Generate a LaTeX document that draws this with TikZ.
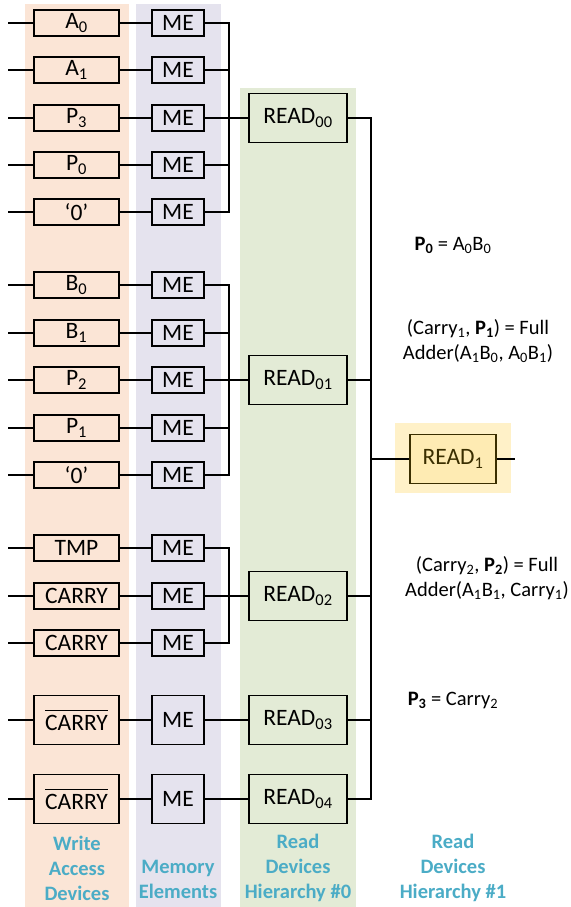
\documentclass[tikz,border=0pt]{standalone}
\usepackage{fontspec}
\setmainfont{Carlito}
\definecolor{orangebg}{HTML}{FBE5D6}
\definecolor{purplebg}{HTML}{E5E3EE}
\definecolor{greenbg}{HTML}{E3EBD6}
\definecolor{yellowbg}{HTML}{FFF1C8}
\definecolor{yellowbox}{HTML}{FEEBB3}
\definecolor{darkbrown}{HTML}{3A2E00}
\definecolor{labelblue}{HTML}{4BACC6}
\newcommand{\mysb}[1]{\textsubscript{#1}}
\newsavebox{\carrybox}
\newcommand{\ncarry}{\sbox{\carrybox}{CARRY}\rlap{\rule[19pt]{\wd\carrybox}{1.3pt}}\usebox{\carrybox}}
\begin{document}
\begin{tikzpicture}[x=1pt,y=-1pt,
  wire/.style={line width=1.4pt},
  boxbase/.style={draw, line width=1.4pt, inner sep=0pt, font=\fontsize{23.5}{28}\selectfont},
  wsmall/.style={boxbase, fill=orangebg, minimum width=85pt, minimum height=26pt},
  wbig/.style={boxbase, fill=orangebg, minimum width=85pt, minimum height=49pt},
  mesmall/.style={boxbase, fill=purplebg, minimum width=52pt, minimum height=26pt},
  mebig/.style={boxbase, fill=purplebg, minimum width=52pt, minimum height=49pt},
  readbox/.style={boxbase, fill=greenbg, minimum width=98pt, minimum height=49pt},
  read1box/.style={boxbase, fill=yellowbox, draw=darkbrown, text=darkbrown, minimum width=86pt, minimum height=49pt},
  note/.style={align=center, font=\fontsize{20.5}{25}\selectfont},
  collabel/.style={align=center, text=labelblue, font=\fontsize{20.5}{25}\selectfont\bfseries}
]
\useasboundingbox (0,0) rectangle (570,907);
% backgrounds
\fill[orangebg] (25,4) rectangle (129,907);
\fill[purplebg] (136,4) rectangle (221,907);
\fill[greenbg] (240,88) rectangle (356,907);
\fill[yellowbg] (395,423) rectangle (511,493);

\coordinate (busA) at (229,0);
\coordinate (busB) at (371,0);

% rows
\foreach \n/\y/\t/\ws/\ms in {
  1/23/A\mysb{0}/wsmall/mesmall,
  2/70/A\mysb{1}/wsmall/mesmall,
  3/118/P\mysb{3}/wsmall/mesmall,
  4/165/P\mysb{0}/wsmall/mesmall,
  5/212/‘0’/wsmall/mesmall,
  6/285/B\mysb{0}/wsmall/mesmall,
  7/333/B\mysb{1}/wsmall/mesmall,
  8/380/P\mysb{2}/wsmall/mesmall,
  9/428/P\mysb{1}/wsmall/mesmall,
  10/475/‘0’/wsmall/mesmall,
  11/548/TMP/wsmall/mesmall,
  12/596/CARRY/wsmall/mesmall,
  13/643/CARRY/wsmall/mesmall,
  14/720/\ncarry/wbig/mebig,
  15/799/\ncarry/wbig/mebig}{
  \coordinate (in\n) at (8,\y);
  \node[\ws] (w\n) at (76.5,\y) {\t};
  \node[\ms] (m\n) at (178,\y) {ME};
  \draw[wire] (in\n) -- (w\n.west);
  \draw[wire] (w\n.east) -- (m\n.west);
}

% read devices hierarchy #0
\node[readbox] (r0) at (298,118) {READ\mysb{00}};
\node[readbox] (r1) at (298,380) {READ\mysb{01}};
\node[readbox] (r2) at (298,596) {READ\mysb{02}};
\node[readbox] (r3) at (298,720) {READ\mysb{03}};
\node[readbox] (r4) at (298,799) {READ\mysb{04}};
\node[read1box] (rr) at (453,459) {READ\mysb{1}};
\coordinate (out) at (515,459);

% buses group 1
\draw[wire] (m1.east) -- (m1.east -| busA) -- (m5.east -| busA) -- (m5.east);
\foreach \i in {2,3,4} \draw[wire] (m\i.east) -- (m\i.east -| busA);
\draw[wire] (m3.east -| busA) -- (r0.west);
% group 2
\draw[wire] (m6.east) -- (m6.east -| busA) -- (m10.east -| busA) -- (m10.east);
\foreach \i in {7,8,9} \draw[wire] (m\i.east) -- (m\i.east -| busA);
\draw[wire] (m8.east -| busA) -- (r1.west);
% group 3
\draw[wire] (m11.east) -- (m11.east -| busA) -- (m13.east -| busA) -- (m13.east);
\draw[wire] (m12.east) -- (r2.west);
% direct
\draw[wire] (m14.east) -- (r3.west);
\draw[wire] (m15.east) -- (r4.west);

% right bus
\draw[wire] (r0.east) -- (r0.east -| busB) -- (r4.east -| busB) -- (r4.east);
\foreach \i in {1,2,3} \draw[wire] (r\i.east) -- (r\i.east -| busB);
\draw[wire] (rr.west -| busB) -- (rr.west);
\draw[wire] (rr.east) -- (out);

% annotations
\node[note] (n0) at (453,245) {\textbf{P\mysb{0}} = A\mysb{0}B\mysb{0}};
\node[note] (n1) at (478,341) {(Carry\mysb{1}, \textbf{P\mysb{1}}) = Full\\Adder(A\mysb{1}B\mysb{0}, A\mysb{0}B\mysb{1})};
\node[note] (n2) at (487,578) {(Carry\mysb{2}, \textbf{P\mysb{2}}) = Full\\Adder(A\mysb{1}B\mysb{1}, Carry\mysb{1})};
\node[note] (n3) at (453,700) {\textbf{P\mysb{3}} = Carry\mysb{2}};

% column labels
\node[collabel] (l1) at (77,868) {Write\\Access\\Devices};
\node[collabel] (l2) at (178,879) {Memory\\Elements};
\node[collabel] (l3) at (298,868) {Read\\Devices\\Hierarchy \#0};
\node[collabel] (l4) at (453,868) {Read\\Devices\\Hierarchy \#1};
\end{tikzpicture}
\end{document}
